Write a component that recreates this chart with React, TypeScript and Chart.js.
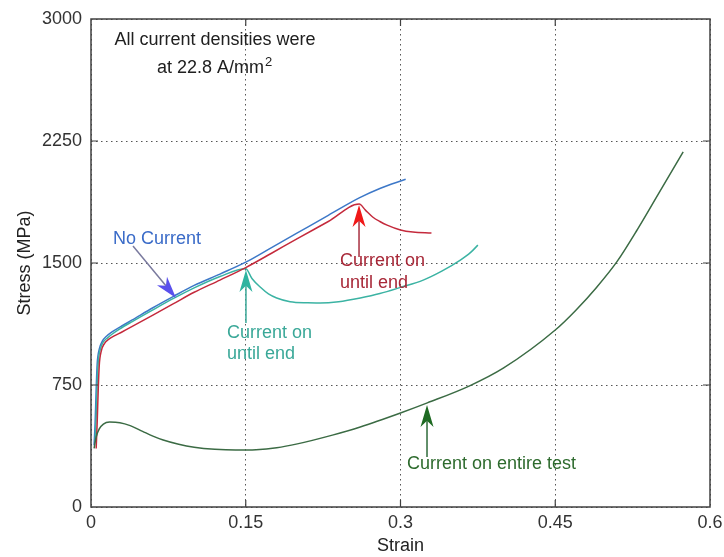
import React, { useEffect, useRef } from "react";
import { Chart, registerables } from "chart.js";

Chart.register(...registerables);

// ---- Data (strain, stress in MPa) ----
const noCurrentStrain = [0.003, 0.004, 0.005, 0.006, 0.008, 0.011, 0.015, 0.02, 0.028, 0.04, 0.06, 0.08, 0.1, 0.125, 0.15, 0.175, 0.2, 0.23, 0.26, 0.28, 0.305];
const noCurrentStress = [380, 520, 720, 880, 970, 1020, 1050, 1075, 1106, 1150, 1225, 1295, 1362, 1432, 1505, 1595, 1685, 1793, 1900, 1958, 2015];

const tealStrain = [0.004, 0.005, 0.006, 0.007, 0.009, 0.012, 0.016, 0.021, 0.028, 0.04, 0.06, 0.08, 0.1, 0.125, 0.15, 0.156, 0.164, 0.172, 0.18, 0.193, 0.21, 0.222, 0.24, 0.261, 0.28, 0.3, 0.322, 0.34, 0.358, 0.368, 0.375];
const tealStress = [400, 560, 760, 890, 970, 1015, 1040, 1065, 1095, 1140, 1212, 1282, 1347, 1417, 1465, 1405, 1352, 1310, 1285, 1262, 1255, 1254, 1262, 1285, 1312, 1350, 1395, 1450, 1518, 1565, 1610];

const redStrain = [0.005, 0.006, 0.007, 0.008, 0.01, 0.013, 0.017, 0.022, 0.03, 0.04, 0.06, 0.08, 0.1, 0.125, 0.15, 0.175, 0.2, 0.23, 0.26, 0.266, 0.273, 0.28, 0.287, 0.3, 0.312, 0.33];
const redStress = [360, 520, 720, 870, 960, 1005, 1030, 1050, 1076, 1110, 1180, 1250, 1320, 1395, 1472, 1560, 1650, 1755, 1862, 1825, 1783, 1755, 1733, 1703, 1690, 1684];

const greenStrain = [0.003, 0.005, 0.008, 0.012, 0.018, 0.028, 0.038, 0.05, 0.06, 0.07, 0.085, 0.1, 0.12, 0.14, 0.16, 0.18, 0.2, 0.234, 0.261, 0.3, 0.326, 0.367, 0.4, 0.45, 0.47, 0.49, 0.51, 0.53, 0.55, 0.574];
const greenStress = [360, 430, 480, 510, 522, 518, 500, 465, 436, 412, 386, 368, 355, 350, 352, 364, 388, 442, 492, 578, 640, 745, 855, 1088, 1210, 1350, 1510, 1710, 1925, 2183];

const xTickValues = [0, 0.15, 0.3, 0.45, 0.6];
const yTickValues = [0, 750, 1500, 2250, 3000];

const FONT = "'Liberation Sans', Arial, Helvetica, sans-serif";

const pts = (xs: number[], ys: number[]) => xs.map((x, i) => ({ x, y: ys[i] }));

function drawArrow(ctx: CanvasRenderingContext2D, fx: number, fy: number, tx: number, ty: number, lineColor: string, headColor: string) {
  const dx = tx - fx, dy = ty - fy;
  const len = Math.hypot(dx, dy);
  const ux = dx / len, uy = dy / len;
  const nx = -uy, ny = ux;
  const L = 22, W = 13;
  const bx = tx - ux * L, by = ty - uy * L;
  const notchX = tx - ux * L * 0.72, notchY = ty - uy * L * 0.72;
  ctx.save();
  ctx.strokeStyle = lineColor;
  ctx.lineWidth = 1.5;
  ctx.beginPath();
  ctx.moveTo(fx, fy);
  ctx.lineTo(notchX, notchY);
  ctx.stroke();
  ctx.fillStyle = headColor;
  ctx.beginPath();
  ctx.moveTo(tx, ty);
  ctx.lineTo(bx + nx * W / 2, by + ny * W / 2);
  ctx.lineTo(notchX, notchY);
  ctx.lineTo(bx - nx * W / 2, by - ny * W / 2);
  ctx.closePath();
  ctx.fill();
  ctx.restore();
}

const framePlugin = {
  id: "frameAndNotes",
  afterDraw(chart: any) {
    const { ctx, chartArea: a, scales } = chart;
    const X = (v: number) => scales.x.getPixelForValue(v);
    const Y = (v: number) => scales.y.getPixelForValue(v);
    ctx.save();
    // frame
    ctx.strokeStyle = "#404040";
    ctx.lineWidth = 1.5;
    ctx.strokeRect(a.left, a.top, a.right - a.left, a.bottom - a.top);
    // inward ticks
    ctx.lineWidth = 1.2;
    ctx.beginPath();
    xTickValues.slice(1, -1).forEach((v) => {
      const p = X(v);
      ctx.moveTo(p, a.bottom); ctx.lineTo(p, a.bottom - 7);
      ctx.moveTo(p, a.top); ctx.lineTo(p, a.top + 7);
    });
    yTickValues.slice(1, -1).forEach((v) => {
      const p = Y(v);
      ctx.moveTo(a.left, p); ctx.lineTo(a.left + 7, p);
      ctx.moveTo(a.right, p); ctx.lineTo(a.right - 7, p);
    });
    ctx.stroke();

    // annotations
    ctx.textBaseline = "alphabetic";
    ctx.font = `18px ${FONT}`;
    ctx.fillStyle = "#202020";
    ctx.textAlign = "center";
    ctx.fillText("All current densities were", X(0.1202), Y(2840));
    ctx.textAlign = "left";
    const l2 = "at 22.8 A/mm";
    const l2x = X(0.064), l2y = Y(2668);
    ctx.fillText(l2, l2x, l2y);
    const w2 = ctx.measureText(l2).width;
    ctx.font = `13px ${FONT}`;
    ctx.fillText("2", l2x + w2 + 1, l2y - 7);

    ctx.font = `18px ${FONT}`;
    // No Current
    ctx.fillStyle = "#3a6bc8";
    ctx.fillText("No Current", X(0.0213), Y(1617));
    drawArrow(ctx, X(0.0407), Y(1605), X(0.0824), Y(1285), "#7a7a9e", "#5a50ec");

    // teal
    ctx.fillStyle = "#3aa898";
    ctx.fillText("Current on", X(0.1318), Y(1039));
    ctx.fillText("until end", X(0.1318), Y(910));
    drawArrow(ctx, X(0.1502), Y(1131), X(0.1502), Y(1457), "#3aa898", "#2eb4a0");

    // red
    ctx.fillStyle = "#a82838";
    ctx.fillText("Current on", X(0.2413), Y(1481));
    ctx.fillText("until end", X(0.2413), Y(1346));
    drawArrow(ctx, X(0.2598), Y(1537), X(0.2598), Y(1857), "#a83040", "#f01818");

    // green
    ctx.fillStyle = "#2e6b2e";
    ctx.fillText("Current on entire test", X(0.3063), Y(234));
    drawArrow(ctx, X(0.3257), Y(307), X(0.3257), Y(627), "#2e6b3a", "#1e6a22");
    ctx.restore();
  },
};

export default function App() {
  const ref = useRef<HTMLCanvasElement | null>(null);
  useEffect(() => {
    if (!ref.current) return;
    const line = (data: any[], color: string) => ({
      data,
      borderColor: color,
      backgroundColor: color,
      borderWidth: 1.5,
      pointRadius: 0,
      showLine: true,
      fill: false,
      cubicInterpolationMode: "monotone" as const,
    });
    const chart = new Chart(ref.current, {
      type: "scatter",
      data: {
        datasets: [
          line(pts(greenStrain, greenStress), "#3b6b44"),
          line(pts(redStrain, redStress), "#c42a3c"),
          line(pts(tealStrain, tealStress), "#3bb3a3"),
          line(pts(noCurrentStrain, noCurrentStress), "#3d78c8"),
        ],
      },
      options: {
        animation: false,
        responsive: false,
        devicePixelRatio: 1,
        layout: { padding: { left: 0, right: 14, top: 19, bottom: 0 } },
        plugins: { legend: { display: false }, tooltip: { enabled: false } },
        scales: {
          x: {
            type: "linear",
            min: 0,
            max: 0.6,
            afterBuildTicks: (s: any) => { s.ticks = xTickValues.map((v) => ({ value: v })); },
            afterFit: (s: any) => { s.height = 50; s.paddingLeft = 0; s.paddingRight = 0; },
            ticks: {
              autoSkip: false,
              maxRotation: 0,
              padding: 5,
              color: "#333",
              font: { family: FONT, size: 18 },
              callback: (v: any) => String(+Number(v).toFixed(2)),
            },
            grid: { color: "#555", lineWidth: 1, drawTicks: false },
            border: { display: false, dash: [1.5, 3.5] },
            title: { display: true, text: "Strain", color: "#222", font: { family: FONT, size: 18 }, padding: { top: 0, bottom: 0 } },
          },
          y: {
            type: "linear",
            min: 0,
            max: 3000,
            afterBuildTicks: (s: any) => { s.ticks = yTickValues.map((v) => ({ value: v })); },
            afterFit: (s: any) => { s.width = 91; s.paddingTop = 0; s.paddingBottom = 0; },
            ticks: {
              autoSkip: false,
              padding: 9,
              color: "#333",
              font: { family: FONT, size: 18 },
              callback: (v: any) => String(v),
            },
            grid: { color: "#555", lineWidth: 1, drawTicks: false },
            border: { display: false, dash: [1.5, 3.5] },
            title: { display: true, text: "Stress (MPa)", color: "#222", font: { family: FONT, size: 18 }, padding: { top: 14, bottom: 0 } },
          },
        },
      },
      plugins: [framePlugin],
    } as any);
    return () => chart.destroy();
  }, []);
  return (
    <div style={{ position: "absolute", left: 0, top: 0, width: 724, height: 557, background: "#fff" }}>
      <canvas ref={ref} width={724} height={557} style={{ width: 724, height: 557, display: "block" }} />
    </div>
  );
}
